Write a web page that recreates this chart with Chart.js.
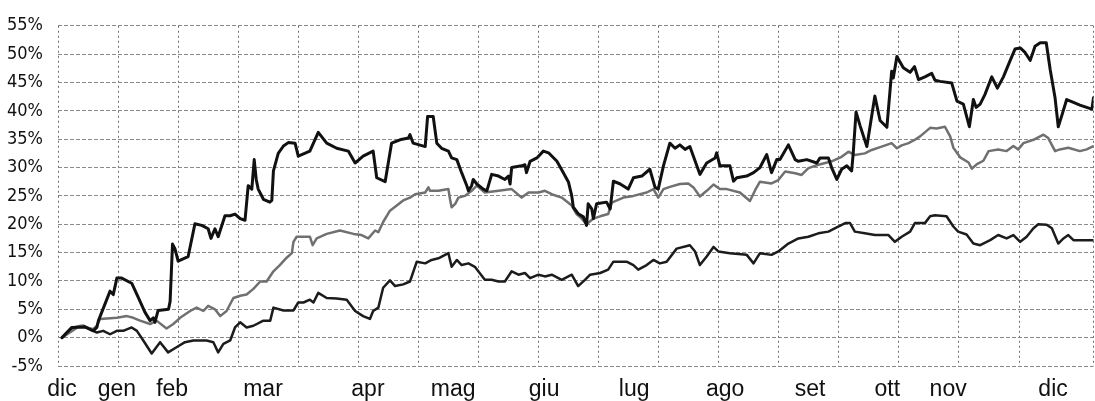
<!DOCTYPE html>
<html>
<head>
<meta charset="utf-8">
<script src="https://cdn.jsdelivr.net/npm/chart.js@4.4.1/dist/chart.umd.min.js"></script>
<style>
    body { margin: 0; background: #fff; }
    #wrap { width: 1095px; height: 401px; }
</style>
</head>
<body>
<div id="wrap"><canvas id="chart" width="1095" height="401"></canvas></div>
<script>
// x values are trading days from the start of the period, y values are % returns
const monthLabels = ['dic', 'gen', 'feb', 'mar', 'apr', 'mag', 'giu', 'lug', 'ago', 'set', 'ott', 'nov', 'dic'];
const monthDays = [1, 14.7, 28.5, 51.2, 77.4, 98.7, 121.4, 143.9, 166.6, 187.8, 207.1, 222.3, 248.5];
const yTicks = [-5, 0, 5, 10, 15, 20, 25, 30, 35, 40, 45, 50, 55];

// series A (thick black line)
const daysA = [1, 3.4, 6.7, 8.8, 9.7, 10.1, 13, 13.8, 14.7, 15.9, 18.4, 20.1, 21.7, 23, 23.8, 24.2, 25, 27.6, 28, 28.6,
    29.2, 30, 32.5, 34.2, 35.9, 37.5, 38.2, 39.2, 40, 41.7, 43, 44.2, 45.5, 46.7, 47.5, 48.4, 49, 49.5, 50, 51.3,
    52.9, 53.4, 53.8, 55, 56.3, 57.5, 59.2, 60, 62.9, 65, 67.1, 69.6, 72.5, 74.2, 76.2, 78.7, 79.6, 81.7, 83.3, 85.4,
    87.5, 87.9, 88.7, 91.7, 92.3, 93.7, 94.6, 95.8, 97.5, 98.3, 99.6, 100.8, 102.1, 102.5, 103.3, 103.7, 104.6, 106.2, 107.1, 108.3,
    110, 111.6, 112.5, 112.9, 113.3, 115.8, 116.6, 117, 117.9, 119.6, 121.2, 122.5, 124.6, 126.2, 127.5, 128.3, 128.7, 130, 131.2, 132,
    132.4, 133.3, 133.7, 134.5, 137, 137.9, 138.7, 140.4, 142.4, 143.7, 145.8, 147.8, 149.1, 149.9, 151.2, 152.8, 154.1, 155.3, 156.6, 157.8,
    160.3, 162, 164.1, 164.5, 165.3, 167.8, 168.7, 169.5, 172, 173.7, 175.3, 177, 178.2, 179.5, 180.3, 182.4, 184.1, 184.9, 187, 189.5,
    190.3, 192.4, 193.2, 194.5, 195.7, 197, 198.2, 198.6, 199.3, 200.3, 202, 204, 205.3, 207, 208.2, 208.6, 209.5, 211.1, 212.8, 213.9,
    214.9, 216.5, 218.2, 219, 220.3, 223.2, 224.5, 226.1, 227.6, 228.6, 229.3, 230.3, 231.5, 233.2, 234.6, 236.1, 237.8, 239, 240.3, 241.5,
    242.8, 244, 245.3, 246.8, 247.8, 249, 249.8, 250.7, 251.9, 253.6, 255.2, 258.2, 258.6];
const valuesA = [0, 1.8, 1.9, 1.2, 1.8, 3, 8.2, 7.6, 10.5, 10.5, 9.6, 7, 4.5, 3, 3.5, 2.7, 4.8, 5, 6.4, 16.5,
    15.7, 13.5, 14.3, 20.1, 19.8, 19.2, 17.5, 19.2, 17.8, 21.5, 21.5, 21.8, 21, 20.7, 26.8, 26.2, 31.4, 27.9, 26.2, 24.4,
    23.9, 24.2, 29.4, 32.5, 33.8, 34.4, 34.3, 32, 32.9, 36.2, 34.3, 33.4, 32.9, 30.8, 32, 32.9, 28.2, 27.5, 34.3, 34.9,
    35.2, 35.8, 34.3, 33.7, 39, 39, 34.3, 33.4, 32.9, 31.7, 31.4, 29.1, 26.8, 25.9, 26.8, 27.9, 27.1, 26.2, 25.9, 28.8,
    28.5, 27.9, 28.5, 27.1, 30, 30.3, 30.5, 29.1, 31.1, 31.7, 32.9, 32.6, 31.1, 29.1, 27.4, 25, 23, 21.8, 21.3, 19.8,
    23.6, 22.7, 21, 23.6, 23.9, 22.7, 27.6, 27.1, 26.2, 28.2, 28.5, 29.7, 26.5, 26.2, 30.3, 34.3, 33.4, 34, 33.2, 33.7,
    28.8, 30.8, 31.7, 32.6, 30.3, 30.3, 27.6, 28.2, 28.5, 29.1, 30, 32.3, 29.1, 31.4, 31.4, 34, 31.4, 31.1, 31.4, 30.8,
    31.7, 31.7, 30, 27.9, 29.7, 30.3, 29.4, 32.6, 39.8, 37.4, 33.7, 42.6, 38.3, 37.1, 47, 45.8, 49.6, 47.6, 46.8, 47.8,
    45.5, 46, 46.6, 45.4, 45.2, 44.9, 41.7, 41.2, 37.2, 42, 40.6, 41.2, 42.9, 46, 44, 46, 48.9, 50.9, 51.1, 50.3,
    48.9, 51.4, 52, 52, 47.2, 42.3, 37.2, 39.2, 42, 41.5, 41, 40.3, 42.3];

// series B (grey line)
const daysB = [1, 5.5, 8.8, 9.7, 10.5, 14.7, 17.2, 18.8, 20.5, 23, 24.6, 27.1, 28.8, 30.5, 33, 34.6, 36.3, 37.5, 39.2, 40.5,
    42.1, 43.8, 45.5, 47.1, 48.8, 50.5, 52.1, 53.8, 55.4, 57.1, 58.4, 58.8, 59.6, 61.3, 62.9, 63.6, 64.6, 67.1, 70.4, 73.8,
    75.8, 77.5, 79.2, 80, 81.2, 82.9, 84.6, 86.2, 87.9, 89.2, 91.7, 92.5, 92.9, 95, 97.5, 97.9, 98.3, 99.2, 100, 101.6,
    103.3, 104.6, 106.6, 110, 113.3, 115.8, 117.5, 120, 121.6, 123.3, 125.8, 128.3, 129.5, 130.8, 132, 133.7, 135.4, 137.4, 138.3, 141.2,
    143.7, 147, 148.7, 149.9, 151.2, 152.8, 155.3, 157.4, 158.7, 160.3, 162, 163.7, 165.3, 167, 170.3, 172.8, 174.1, 175.3, 178.2, 179.9,
    181.6, 184.1, 185.7, 187.4, 189.9, 191.6, 193.2, 195.7, 197.4, 199, 201.5, 203.2, 205.7, 208.2, 209.5, 210.7, 212.4, 214, 215.3, 217.8,
    219.4, 221.5, 222.8, 223.6, 225.3, 227.4, 228.2, 229.5, 231.1, 232.4, 234.8, 236.9, 238.6, 239.8, 241.1, 243.6, 246.1, 247.3, 249, 250.2,
    252.3, 255.2, 256.9, 258.6];
const valuesB = [0, 2.1, 1.5, 2.1, 3.3, 3.5, 3.8, 3.5, 3, 2.4, 3, 1.6, 2.4, 3.5, 4.7, 5.3, 4.7, 5.6, 5, 3.8,
    4.7, 7, 7.4, 7.6, 8.6, 9.9, 9.9, 11.7, 12.8, 14.1, 14.9, 16.9, 17.8, 17.8, 17.8, 16.3, 17.5, 18.3, 18.9, 18.3,
    18.1, 17.5, 18.9, 18.6, 20.4, 22.4, 23.3, 24.2, 24.7, 25.3, 25.6, 26.5, 25.9, 25.9, 26.2, 24.4, 23, 23.6, 24.7, 25,
    25.9, 26.8, 25.6, 25.9, 26.2, 24.7, 25.6, 25.6, 25.9, 25.3, 24.7, 23.3, 21.8, 21, 20, 21, 21.4, 21.8, 23.8, 24.7,
    25, 25.6, 26.2, 24.7, 26.2, 26.6, 27.1, 27.2, 26.5, 24.9, 25.9, 27, 26.2, 26.2, 25.6, 24.1, 26, 27.5, 27.2, 27.8,
    29.3, 29, 28.7, 29.9, 30.5, 30.8, 31.1, 31.9, 32.8, 32.2, 32.5, 33.1, 33.7, 34.3, 33.4, 33.9, 34.3, 34.9, 35.5, 37,
    36.9, 37.2, 35.5, 33.5, 31.8, 30.9, 29.8, 30.6, 31.2, 32.9, 33.2, 32.9, 33.8, 33.2, 34.3, 34.9, 35.8, 35.2, 32.9, 33.2,
    33.5, 32.9, 33.2, 33.8];

// series C (lower black line)
const daysC = [1, 3.8, 6.3, 8, 9.7, 11.3, 13, 14.7, 16.3, 18.4, 19.7, 21.3, 23.4, 25.5, 27.5, 29.6, 31.7, 33.8, 35.5, 37.1,
    38.8, 40, 41.3, 43, 44.2, 45.5, 47.1, 48.8, 51.3, 53, 53.8, 56.3, 58.8, 60, 61.3, 62.9, 63.8, 65, 67.1, 69.6,
    72.1, 74.2, 76.2, 77.9, 78.7, 80, 81.2, 82.9, 84.2, 86.2, 87.9, 89.6, 91.7, 93.3, 95, 97.5, 98.3, 99.6, 100.8, 102.5,
    104.1, 106.6, 108.3, 110, 111.6, 113.3, 115, 116.6, 117.9, 120, 121.6, 123.3, 125.8, 128.3, 129.9, 131.6, 132.9, 135.4, 137.4, 138.7,
    142, 143.7, 144.9, 147, 148.7, 150.3, 152, 154.5, 157.8, 159.1, 160.3, 162, 163.7, 164.9, 167.8, 172, 173.7, 175.3, 178.2, 179.9,
    182.4, 184.9, 187.4, 189.9, 192.4, 194.1, 196.6, 197.8, 199, 201.5, 204, 207.4, 209, 210.7, 212.8, 214, 216.5, 217.8, 219, 221.9,
    223.6, 224.8, 226.9, 228.6, 230.3, 232.8, 234.8, 236.9, 238.6, 240.3, 241.9, 243.6, 244.8, 246.9, 248.2, 249.8, 251.1, 252.3, 253.6, 256.1,
    258.6];
const valuesC = [0, 1.8, 2.1, 1.5, 0.9, 1.2, 0.6, 1.2, 1.2, 1.8, 1.2, -0.5, -2.8, -0.8, -2.6, -1.7, -0.8, -0.5, -0.5, -0.5,
    -0.8, -2.6, -1.1, -0.5, 1.8, 2.7, 1.8, 2.1, 3, 3, 5.3, 4.8, 4.8, 6.2, 6.2, 6.7, 6.2, 7.9, 7, 6.9,
    6.7, 4.7, 3.8, 3.3, 4.7, 5.3, 8.8, 10.1, 9.1, 9.4, 9.9, 13.4, 13.1, 13.7, 14, 14.9, 12.5, 13.7, 12.8, 13.1,
    12.5, 10.2, 10.2, 9.9, 9.9, 11.7, 11.1, 11.4, 10.5, 11.1, 10.8, 11.1, 10.2, 11.1, 9.1, 10.2, 11.1, 11.4, 12, 13.4,
    13.4, 12.8, 12, 12.8, 13.7, 13.1, 13.4, 15.7, 16.3, 15.2, 12.8, 14.3, 16, 15.2, 14.9, 14.6, 13.1, 14.9, 14.6, 15.2,
    16.6, 17.5, 17.8, 18.4, 18.7, 19.3, 20.2, 20.2, 18.7, 18.4, 18.1, 18.1, 16.9, 17.8, 18.7, 20.2, 20.2, 21.4, 21.6, 21.4,
    19.6, 18.7, 18.2, 16.6, 16.3, 17.2, 18.1, 17.5, 18.1, 16.9, 17.8, 19.3, 20, 19.9, 19.3, 16.6, 17.5, 18.1, 17.2, 17.2,
    17.2];

const toPoints = (days, values) => days.map((d, i) => ({ x: d, y: values[i] }));

const ctx = document.getElementById('chart').getContext('2d');
new Chart(ctx, {
    type: 'line',
    data: {
        datasets: [
            { label: 'A', data: toPoints(daysA, valuesA), borderColor: '#111', borderWidth: 3 },
            { label: 'B', data: toPoints(daysB, valuesB), borderColor: '#707070', borderWidth: 2.5 },
            { label: 'C', data: toPoints(daysC, valuesC), borderColor: '#1c1c1c', borderWidth: 2.5 }
        ]
    },
    options: {
        responsive: false,
        animation: false,
        layout: { padding: { top: 23, right: 1.5, left: 0, bottom: 0 } },
        elements: {
            point: { radius: 0 },
            line: { tension: 0, borderJoinStyle: 'round', borderCapStyle: 'round' }
        },
        plugins: { legend: { display: false }, tooltip: { enabled: false } },
        scales: {
            x: {
                type: 'linear',
                min: 0,
                max: 258.6,
                grid: { color: '#6e6e6e', lineWidth: 1, drawTicks: false },
                border: { display: false, dash: [2, 3] },
                ticks: { display: false, stepSize: 15 },
                afterFit: (scale) => { scale.height = 0; }
            },
            x2: {
                type: 'linear',
                position: 'bottom',
                min: 0,
                max: 258.6,
                grid: { display: false },
                border: { display: false },
                afterBuildTicks: (axis) => { axis.ticks = monthDays.map(v => ({ value: v })); },
                ticks: {
                    autoSkip: false,
                    maxRotation: 0,
                    padding: 2,
                    color: '#111',
                    font: { family: 'Liberation Sans, Arial, sans-serif', size: 23 },
                    callback: (value, index) => monthLabels[index]
                },
                afterFit: (scale) => { scale.height = 35; }
            },
            y: {
                min: -5,
                max: 55,
                grid: { color: '#8a8a8a', lineWidth: 1, drawTicks: false },
                border: { display: false, dash: [4, 2] },
                afterBuildTicks: (axis) => { axis.ticks = yTicks.map(v => ({ value: v })); },
                ticks: {
                    padding: 15,
                    color: '#111',
                    font: { family: '"Liberation Sans Narrow", "DejaVu Sans Condensed", "Roboto Condensed", sans-serif', size: 18 },
                    callback: (value) => value + '%'
                },
                afterFit: (scale) => { scale.width = 58; }
            }
        }
    }
});
</script>
</body>
</html>
